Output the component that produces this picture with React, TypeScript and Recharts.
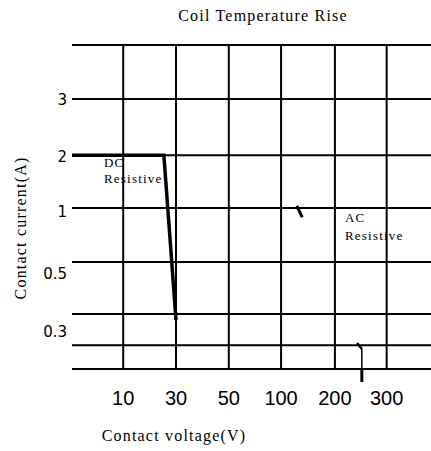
import { ComposedChart, Line, XAxis, YAxis, CartesianGrid, ReferenceLine } from "recharts";

// x axis: grid columns (voltage), positions in grid units
const xTickPos = [0.97, 1.97, 2.97, 3.96, 4.98, 5.96];
const xTickLabels = ["10", "30", "50", "100", "200", "300"];

// y axis: grid rows and the current labels that sit next to them
const yGridPos = [0, 0.44, 1.02, 1.98, 2.98, 3.96, 5, 6];
const yLabelPos = [0.685, 1.76, 2.91, 3.94, 4.98];
const yLabels = ["0.3", "0.5", "1", "2", "3"];

// DC resistive curve
const dcVolt = [0, 1.74, 1.97];
const dcAmp = [3.96, 3.96, 0.91];
const dcTailVolt = [1.97, 1.97];
const dcTailAmp = [0.91, 0];

// AC resistive fragments
const ac1Volt = [4.26, 4.36];
const ac1Amp = [3.02, 2.81];
const ac2Volt = [5.4, 5.49];
const ac2Amp = [0.48, 0.37];
const ac2TailVolt = [5.49, 5.49];
const ac2TailAmp = [0.37, 0];

const toPoints = (xs: number[], ys: number[]) => xs.map((v, i) => ({ volt: v, amp: ys[i] }));

const serif = "'Liberation Serif', 'Times New Roman', serif";
const sans = "'Liberation Sans', Arial, sans-serif";

export default function App() {
  const yLabelText = (v: number) => {
    const i = yLabelPos.findIndex((p) => Math.abs(p - v) < 1e-6);
    return i >= 0 ? yLabels[i] : "";
  };
  const xLabelText = (v: number) => {
    const i = xTickPos.findIndex((p) => Math.abs(p - v) < 1e-6);
    return i >= 0 ? xTickLabels[i] : "";
  };

  return (
    <div style={{ position: "absolute", left: 0, top: 0, width: 431, height: 451, background: "#fff" }}>
      <ComposedChart width={431} height={451} margin={{ top: 45, right: 0, bottom: 52, left: 0 }}>
        <CartesianGrid xAxisId="v" yAxisId="grid" stroke="#000" strokeWidth={2} fill="none" syncWithTicks />
        <XAxis
          xAxisId="v"
          type="number"
          dataKey="volt"
          domain={[0, 6.8]}
          ticks={xTickPos}
          tickFormatter={xLabelText}
          axisLine={false}
          tickLine={false}
          tickSize={0}
          tickMargin={22}
          height={30}
          interval={0}
          tick={{ fill: "#000", fontSize: 20, fontFamily: sans }}
        />
        <YAxis yAxisId="grid" type="number" domain={[0, 6]} ticks={yGridPos} width={0} hide />
        <YAxis
          yAxisId="labels"
          type="number"
          domain={[0, 6]}
          ticks={yLabelPos}
          tickFormatter={yLabelText}
          axisLine={false}
          tickLine={false}
          tickSize={0}
          tickMargin={5}
          width={72}
          interval={0}
          tick={{ fill: "#000", fontSize: 15, fontFamily: "'DejaVu Sans', sans-serif" }}
        />
        <Line
          xAxisId="v"
          yAxisId="grid"
          data={toPoints(dcVolt, dcAmp)}
          dataKey="amp"
          type="linear"
          stroke="#000"
          strokeWidth={3.5}
          dot={false}
          isAnimationActive={false}
        />
        <Line
          xAxisId="v"
          yAxisId="grid"
          data={toPoints(dcTailVolt, dcTailAmp)}
          dataKey="amp"
          type="linear"
          stroke="#000"
          strokeWidth={1.5}
          dot={false}
          isAnimationActive={false}
        />
        <Line
          xAxisId="v"
          yAxisId="labels"
          data={toPoints(ac1Volt, ac1Amp)}
          dataKey="amp"
          type="linear"
          stroke="#000"
          strokeWidth={3}
          dot={false}
          isAnimationActive={false}
        />
        <Line
          xAxisId="v"
          yAxisId="labels"
          data={toPoints(ac2Volt, ac2Amp)}
          dataKey="amp"
          type="linear"
          stroke="#000"
          strokeWidth={2.5}
          dot={false}
          isAnimationActive={false}
        />
        <Line
          xAxisId="v"
          yAxisId="labels"
          data={toPoints(ac2TailVolt, ac2TailAmp)}
          dataKey="amp"
          type="linear"
          stroke="#000"
          strokeWidth={1.5}
          dot={false}
          isAnimationActive={false}
        />
        <ReferenceLine
          xAxisId="v"
          yAxisId="grid"
          segment={[{ x: 5.49, y: -0.02 }, { x: 5.49, y: -0.24 }]}
          stroke="#000"
          strokeWidth={3}
          ifOverflow="visible"
        />
        <text x={263} y={21} textAnchor="middle" fontFamily={serif} fontSize={16} letterSpacing={1.2} fill="#000">
          Coil Temperature Rise
        </text>
        <text
          x={26}
          y={228}
          transform="rotate(-90 26 228)"
          textAnchor="middle"
          fontFamily={serif}
          fontSize={16}
          letterSpacing={1.2}
          fill="#000"
        >
          Contact current(A)
        </text>
        <text x={174} y={441} textAnchor="middle" fontFamily={serif} fontSize={16} letterSpacing={1.2} fill="#000">
          Contact voltage(V)
        </text>
        <text fontFamily={serif} fontSize={13} letterSpacing={1.2} fill="#000">
          <tspan x={104} y={167}>DC</tspan>
          <tspan x={104} y={183}>Resistive</tspan>
        </text>
        <text fontFamily={serif} fontSize={13} letterSpacing={1.2} fill="#000">
          <tspan x={345} y={222}>AC</tspan>
          <tspan x={345} y={240}>Resistive</tspan>
        </text>
      </ComposedChart>
    </div>
  );
}
